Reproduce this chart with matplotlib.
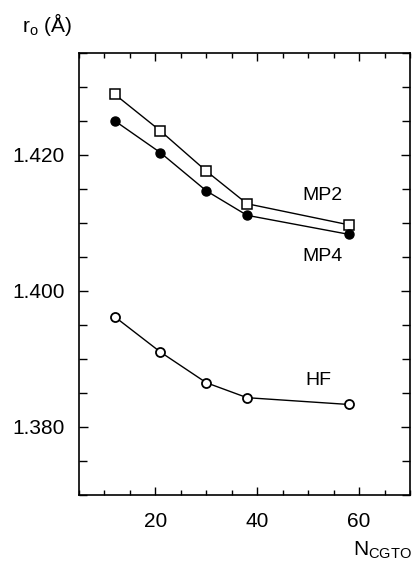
import matplotlib
matplotlib.use("Agg")
import matplotlib.pyplot as plt
from matplotlib.ticker import MultipleLocator

plt.rcParams['font.family'] = ['Liberation Sans', 'DejaVu Sans']
plt.rcParams['mathtext.fontset'] = 'custom'
plt.rcParams['mathtext.rm'] = 'Liberation Sans'
plt.rcParams['mathtext.it'] = 'Liberation Sans'

# basis size
n_cgto = [12, 21, 30, 38, 58]
# bond length r_o (Angstrom)
mp2 = [1.4289, 1.4235, 1.4176, 1.4128, 1.4097]
mp4 = [1.4250, 1.4203, 1.4147, 1.4111, 1.4083]
hf = [1.3962, 1.3910, 1.3865, 1.3843, 1.3833]

fig = plt.figure(figsize=(4.14, 5.67), dpi=100)
ax = fig.add_axes([0.1908, 0.127, 0.7995, 0.7801])

ax.plot(n_cgto, mp2, '-s', color='black', lw=1.0, ms=6.5,
        mfc='white', mec='black', mew=1.1)
ax.plot(n_cgto, mp4, '-o', color='black', lw=1.0, ms=6.5,
        mfc='black', mec='black')
ax.plot(n_cgto, hf, '-o', color='black', lw=1.0, ms=6.5,
        mfc='white', mec='black', mew=1.3)

ax.text(52.9, 1.4140, 'MP2', fontsize=14, ha='center', va='center')
ax.text(52.8, 1.4050, 'MP4', fontsize=14, ha='center', va='center')
ax.text(52.0, 1.3868, 'HF', fontsize=14, ha='center', va='center')

ax.set_xlim(5, 70)
ax.set_ylim(1.370, 1.435)
ax.xaxis.set_major_locator(MultipleLocator(20))
ax.xaxis.set_minor_locator(MultipleLocator(5))
ax.set_yticks([1.380, 1.400, 1.420])
ax.set_yticklabels(['1.380', '1.400', '1.420'])
ax.yaxis.set_minor_locator(MultipleLocator(0.005))

ax.tick_params(which='both', direction='in', top=True, right=True,
               width=1.0, labelsize=15)
ax.tick_params(axis='x', which='major', length=6, pad=12)
ax.tick_params(axis='x', which='minor', length=3.5)
ax.tick_params(axis='y', which='major', length=6.5, pad=10)
ax.tick_params(axis='y', which='minor', length=6)
for s in ax.spines.values():
    s.set_linewidth(1.2)

fig.text(22 / 414, 1 - 32 / 567, r'r$_\mathrm{o}$ (Å)', fontsize=15,
         ha='left', va='baseline')
fig.text(412 / 414, 1 - 556 / 567, r'N$_\mathrm{CGTO}$', fontsize=15,
         ha='right', va='baseline')

fig.savefig('out.png', dpi=100)
